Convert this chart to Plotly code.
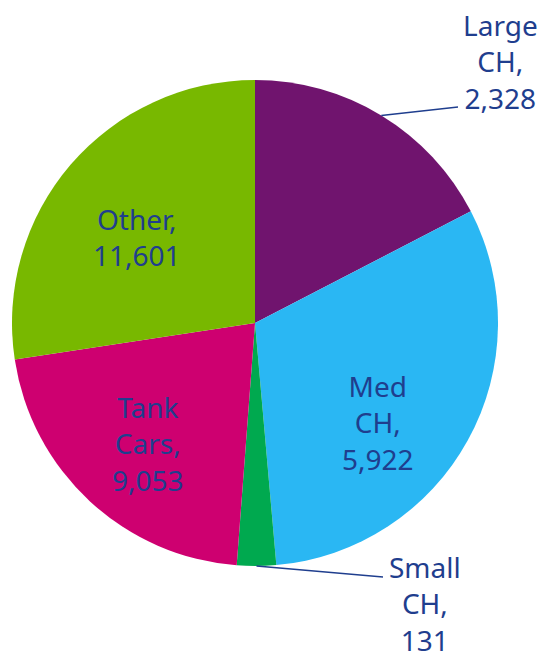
import math
import plotly.graph_objects as go

W, H = 542, 655

labels = ["Large CH", "Med CH", "Small CH", "Tank Cars", "Other"]
# counts shown in the labels, and slice shares as drawn in the picture (%)
counts = [2328, 5922, 131, 9053, 11601]
shares = [17.4, 31.2, 2.6, 21.4, 27.4]
text_lines = ["Large<br>CH,", "Med<br>CH,", "Small<br>CH,", "Tank<br>Cars,", "Other,"]
colors = ["#70146E", "#2AB7F3", "#00A94F", "#CE0070", "#78B800"]

TEXT = "#1F3E8E"
FONT = "Noto Sans"

# pie geometry in pixels
CX, CY, R = 255, 323, 243

fig = go.Figure(
    go.Pie(
        labels=labels,
        values=shares,
        textinfo="none",
        sort=False,
        direction="clockwise",
        rotation=0,
        marker={"colors": colors, "line": {"width": 0}},
        domain={"x": [(CX - R) / W, (CX + R) / W], "y": [1 - (CY + R) / H, 1 - (CY - R) / H]},
        showlegend=False,
        customdata=counts,
        hovertemplate="%{label}: %{customdata:,}<extra></extra>",
    )
)

# label centres (px); leader end for the thin slices labelled outside
label_pos = {
    "Large CH": (500, 62),
    "Med CH": (378, 422),
    "Small CH": (425, 603),
    "Tank Cars": (148, 443),
    "Other": (137, 237),
}
leader_end = {"Large CH": (458, 107), "Small CH": (383, 577)}

total = sum(shares)
start = 0.0
for name, share, t, c in zip(labels, shares, text_lines, counts):
    mid = start + share / total * 360 / 2
    start += share / total * 360
    tx, ty = label_pos[name]
    if name in leader_end:
        x0 = CX + R * math.sin(math.radians(mid))
        y0 = CY - R * math.cos(math.radians(mid))
        x1, y1 = leader_end[name]
        fig.add_shape(
            type="line", xref="paper", yref="paper",
            x0=x0 / W, y0=1 - y0 / H, x1=x1 / W, y1=1 - y1 / H,
            line={"color": TEXT, "width": 1.5},
        )
    fig.add_annotation(
        x=tx / W, y=1 - ty / H, xref="paper", yref="paper",
        text=f"{t}<br>{c:,}", showarrow=False,
        xanchor="center", yanchor="middle",
        font={"family": FONT, "size": 28, "color": TEXT},
    )

fig.update_layout(
    width=W,
    height=H,
    margin={"l": 0, "r": 0, "t": 0, "b": 0},
    paper_bgcolor="white",
    plot_bgcolor="white",
)

fig.write_html(
    "out.html",
    config={"displayModeBar": False},
    post_script="document.body.style.margin='0';",
)
